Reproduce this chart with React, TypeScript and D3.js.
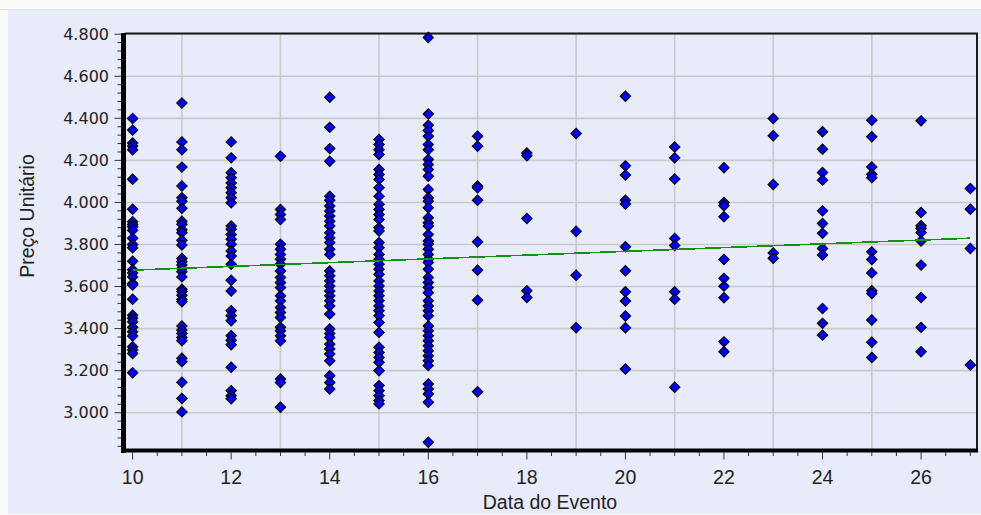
import * as d3 from 'd3'

// Preço unitário por dia do evento
const dia10 = [4399, 4344, 4283, 4268, 4250, 4110, 3968, 3908, 3895, 3884, 3868, 3830, 3800, 3785, 3720, 3680, 3665, 3646, 3615, 3607, 3540, 3464, 3449, 3433, 3406, 3385, 3365, 3314, 3298, 3282, 3190]
const dia11 = [4473, 4288, 4250, 4168, 4078, 4022, 4006, 3972, 3911, 3896, 3870, 3856, 3820, 3798, 3734, 3718, 3702, 3686, 3670, 3646, 3587, 3575, 3559, 3539, 3528, 3413, 3393, 3377, 3358, 3342, 3259, 3243, 3145, 3068, 3004]
const dia12 = [4288, 4212, 4141, 4117, 4093, 4070, 4046, 4022, 3998, 3888, 3872, 3848, 3825, 3801, 3769, 3745, 3706, 3630, 3579, 3485, 3461, 3437, 3366, 3345, 3323, 3216, 3105, 3081, 3066]
const dia13 = [4220, 3967, 3943, 3919, 3801, 3777, 3753, 3730, 3706, 3674, 3643, 3619, 3595, 3556, 3532, 3500, 3477, 3453, 3406, 3390, 3366, 3342, 3160, 3144, 3026]
const dia14 = [4500, 4357, 4256, 4196, 4030, 4010, 3983, 3959, 3935, 3911, 3888, 3856, 3832, 3809, 3777, 3753, 3674, 3651, 3627, 3603, 3579, 3556, 3532, 3508, 3469, 3398, 3377, 3358, 3326, 3303, 3279, 3247, 3176, 3144, 3113]
const dia15 = [4299, 4275, 4251, 4228, 4157, 4133, 4109, 4070, 4030, 3991, 3967, 3943, 3919, 3880, 3864, 3809, 3785, 3753, 3730, 3706, 3682, 3658, 3627, 3603, 3579, 3556, 3532, 3508, 3485, 3461, 3429, 3382, 3311, 3287, 3263, 3240, 3200, 3129, 3105, 3081, 3058, 3042]
const dia16 = [4784, 4421, 4367, 4342, 4315, 4275, 4251, 4204, 4180, 4157, 4125, 4062, 4022, 4006, 3975, 3927, 3904, 3888, 3848, 3817, 3801, 3777, 3753, 3730, 3714, 3682, 3643, 3619, 3595, 3571, 3532, 3508, 3485, 3461, 3413, 3390, 3366, 3342, 3318, 3295, 3271, 3247, 3224, 3137, 3113, 3089, 3050, 2860]
const dia17 = [4315, 4267, 4078, 4070, 4010, 3813, 3678, 3535, 3100]
const dia18 = [4235, 4222, 3924, 3580, 3548]
const dia19 = [4328, 3863, 3654, 3404]
const dia20 = [4505, 4174, 4130, 4011, 3992, 3789, 3675, 3575, 3531, 3460, 3404, 3208]
const dia21 = [4264, 4212, 4111, 3829, 3795, 3575, 3540, 3121]
const dia22 = [4165, 4000, 3984, 3932, 3729, 3639, 3602, 3547, 3337, 3290]
const dia23 = [4399, 4317, 4085, 3760, 3735]
const dia24 = [4336, 4253, 4142, 4106, 3960, 3900, 3853, 3781, 3750, 3496, 3425, 3369]
const dia25 = [4391, 4312, 4169, 4134, 4118, 3765, 3729, 3665, 3580, 3567, 3441, 3335, 3263]
const dia26 = [4388, 3952, 3889, 3876, 3857, 3817, 3702, 3548, 3406, 3290]
const dia27 = [4066, 3968, 3781, 3227]

const dias = [10, 11, 12, 13, 14, 15, 16, 17, 18, 19, 20, 21, 22, 23, 24, 25, 26, 27]
const precos = [dia10, dia11, dia12, dia13, dia14, dia15, dia16, dia17, dia18, dia19, dia20, dia21, dia22, dia23, dia24, dia25, dia26, dia27]

// linha de tendência
const tendenciaX = [10, 27]
const tendenciaY = [3678, 3830]

const xTicks = [10, 12, 14, 16, 18, 20, 22, 24, 26]
const xGrid = [11, 13, 15, 17, 19, 21, 23, 25]
const yTicks = [3000, 3200, 3400, 3600, 3800, 4000, 4200, 4400, 4600, 4800]

const W = 981
const H = 515
const plot = { left: 125, right: 977, top: 34, bottom: 451 }

const fmt = d3.formatLocale({ decimal: ',', thousands: '.', grouping: [3], currency: ['R$', ''] }).format(',')

export default function App() {
  const x = d3.scaleLinear().domain([9.845, 27.135]).range([plot.left, plot.right])
  const y = d3.scaleLinear().domain([2818, 4801]).range([plot.bottom, plot.top])

  const points = dias.flatMap((d, i) => precos[i].map(v => ({ d, v })))
  const diamond = d3.symbol(d3.symbolSquare, 54)()
  const trend = d3
    .line<number>()
    .x(d => x(d))
    .y((_, i) => y(tendenciaY[i]))(tendenciaX)

  const xMinor = d3.range(10, 27.01, 0.5)
  const yMinor = d3.range(2840, 4801, 40)

  return (
    <svg width={W} height={H} style={{ position: 'absolute', left: 0, top: 0 }}>
      <rect width={W} height={H} fill="#fafafa" />
      <line x1={0} x2={W} y1={9.5} y2={9.5} stroke="#e2e2e2" />
      <rect x={8} y={10} width={W - 8} height={H - 11} fill="#e8ebfa" />

      {/* grade */}
      <g stroke="#c9c9c9" strokeWidth={1.6}>
        {yTicks.map(t => (
          <line key={t} x1={plot.left} x2={plot.right} y1={y(t)} y2={y(t)} />
        ))}
        {xGrid.map(t => (
          <line key={t} x1={x(t)} x2={x(t)} y1={plot.top} y2={plot.bottom} />
        ))}
      </g>

      {/* moldura */}
      <line x1={plot.left} x2={plot.right + 1} y1={33.5} y2={33.5} stroke="#1a1a1a" strokeWidth={1.8} />
      <line x1={plot.right} x2={plot.right} y1={33} y2={plot.bottom} stroke="#1a1a1a" strokeWidth={2} />

      {/* pontos */}
      <g fill="#0000ff" stroke="#000" strokeWidth={1.1}>
        {points.map((p, i) => (
          <path key={i} d={diamond} transform={`translate(${x(p.d)},${y(p.v)}) rotate(45)`} />
        ))}
      </g>

      <path d={trend ?? ''} fill="none" stroke="#129212" strokeWidth={1.6} shapeRendering="crispEdges" />

      {/* eixos */}
      <rect x={121} y={33} width={5} height={420} fill="#000" />
      <rect x={121} y={448.5} width={plot.right - 120} height={4} fill="#000" />

      <g stroke="#333" strokeWidth={1}>
        {xMinor.map(t => (
          <line key={t} x1={x(t)} x2={x(t)} y1={452} y2={t % 2 === 0 ? 459.5 : 456} />
        ))}
        {yMinor.map(t => (
          <line key={t} x1={t % 200 === 0 ? 114.5 : 117.5} x2={121} y1={y(t)} y2={y(t)} />
        ))}
      </g>

      <g fontFamily="'DejaVu Sans', sans-serif" fontSize={16} fill="#222" textAnchor="end">
        {yTicks.map(t => (
          <text key={t} x={109} y={y(t)} dy="0.36em">
            {fmt(t)}
          </text>
        ))}
      </g>

      <g fontFamily="'Liberation Sans', Arial, sans-serif" fontSize={19.5} fill="#222" textAnchor="middle">
        {xTicks.map(t => (
          <text key={t} x={x(t)} y={484}>
            {t}
          </text>
        ))}
        <text x={550} y={509}>Data do Evento</text>
        <text transform="translate(34,216) rotate(-90)">Preço Unitário</text>
      </g>
    </svg>
  )
}
